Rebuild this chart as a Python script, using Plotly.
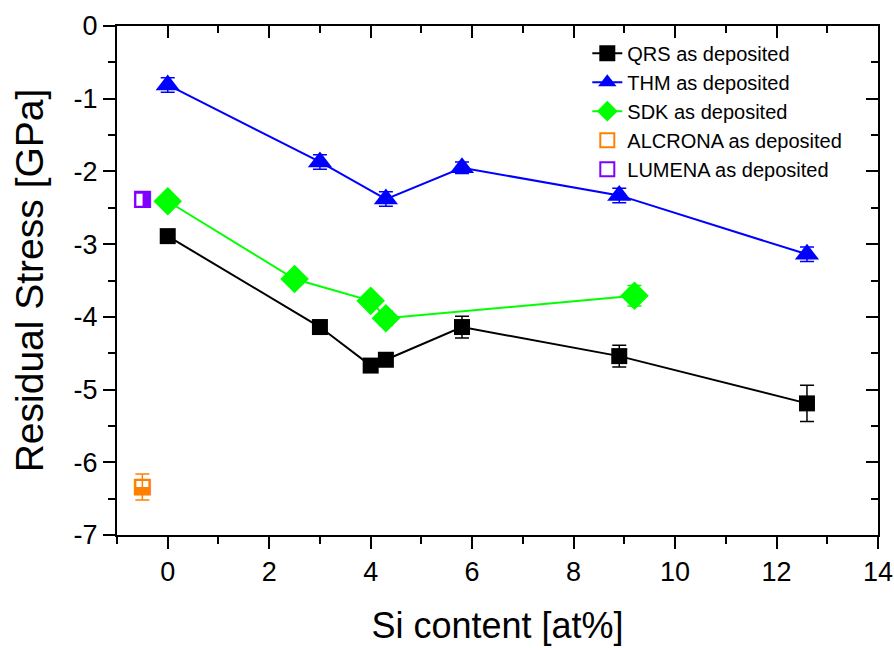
import plotly.graph_objects as go

# ---- data ----
qrs_x = [0, 3, 4, 4.3, 5.8, 8.9, 12.6]
qrs_y = [-2.89, -4.14, -4.67, -4.59, -4.14, -4.54, -5.19]
qrs_err = [0.05, 0.05, 0.08, 0.05, 0.15, 0.15, 0.25]

thm_x = [0, 3, 4.3, 5.8, 8.9, 12.6]
thm_y = [-0.81, -1.87, -2.38, -1.95, -2.33, -3.14]
thm_err = [0.1, 0.1, 0.1, 0.08, 0.1, 0.1]

sdk_x = [0, 2.5, 4, 4.3, 9.2]
sdk_y = [-2.41, -3.48, -3.78, -4.02, -3.71]
sdk_err = [0.06, 0.08, 0.08, 0.1, 0.14]

alc_x = [-0.5]
alc_y = [-6.34]
alc_err = [0.18]

lum_x = [-0.5]
lum_y = [-2.39]

x_ticks = [0, 2, 4, 6, 8, 10, 12, 14]
y_ticks = [0, -1, -2, -3, -4, -5, -6, -7]

FONT = "Arial, Liberation Sans, sans-serif"
BLUE = "#0000ff"
GREEN = "#00ff00"
ORANGE = "#ff8000"
PURPLE = "#8000ff"

fig = go.Figure()

def err(vals, color):
    return dict(type="data", array=vals, visible=True, color=color, thickness=1.5, width=7)

fig.add_trace(go.Scatter(x=qrs_x, y=qrs_y, mode="lines+markers", name="QRS as deposited",
                         line=dict(color="black", width=2),
                         marker=dict(symbol="square", size=16, color="black"),
                         error_y=err(qrs_err, "black")))
fig.add_trace(go.Scatter(x=thm_x, y=thm_y, mode="lines+markers", name="THM as deposited",
                         line=dict(color=BLUE, width=2),
                         marker=dict(symbol="triangle-up", size=21, color=BLUE),
                         error_y=err(thm_err, BLUE)))
fig.add_trace(go.Scatter(x=sdk_x, y=sdk_y, mode="lines+markers", name="SDK as deposited",
                         line=dict(color=GREEN, width=2),
                         marker=dict(symbol="diamond", size=22, color=GREEN),
                         error_y=err(sdk_err, GREEN)))
fig.add_trace(go.Scatter(x=alc_x, y=alc_y, mode="markers", name="ALCRONA as deposited",
                         marker=dict(symbol="square-open", size=14, color=ORANGE, line=dict(width=2, color=ORANGE)),
                         error_y=err(alc_err, ORANGE)))
fig.add_trace(go.Scatter(x=lum_x, y=lum_y, mode="markers", name="LUMENA as deposited",
                         marker=dict(symbol="square-open", size=14, color=PURPLE, line=dict(width=2, color=PURPLE))))
# half-filled glyph overlays
fig.add_trace(go.Scatter(x=alc_x, y=alc_y, mode="text", text=["\u2b13"], showlegend=False,
                         textfont=dict(color=ORANGE, size=22, family="DejaVu Sans"), hoverinfo="skip"))
fig.add_trace(go.Scatter(x=lum_x, y=lum_y, mode="text", text=["\u25e8"], showlegend=False,
                         textfont=dict(color=PURPLE, size=22, family="DejaVu Sans"), hoverinfo="skip"))
# invisible carrier so the mirrored (top/right) axes are drawn
fig.add_trace(go.Scatter(x=qrs_x, y=qrs_y, xaxis="x2", yaxis="y2", mode="markers",
                         marker=dict(opacity=0), showlegend=False, hoverinfo="skip"))

axis_common = dict(showline=True, linecolor="black", linewidth=2, showgrid=False, zeroline=False,
                   ticks="outside", tickcolor="black", tickwidth=2, ticklen=12, automargin=False,
                   ticklabeloverflow="allow",
                   tickfont=dict(family=FONT, size=27, color="black"))
mirror_common = dict(showticklabels=False, showline=True, linecolor="black", linewidth=2,
                     ticks="inside", ticklen=12, tickwidth=2, tickcolor="black", showgrid=False,
                     zeroline=False, automargin=False)

fig.update_layout(
    width=894, height=648,
    margin=dict(l=117, r=16, t=26, b=113),
    plot_bgcolor="white", paper_bgcolor="white",
    font=dict(family=FONT, color="black"),
    xaxis=dict(range=[-1, 14], tickvals=x_ticks, ticktext=[str(v) for v in x_ticks],
               minor=dict(dtick=1, ticks="outside", ticklen=7, tickcolor="black", tickwidth=2),
               title=dict(text="Si content [at%]", font=dict(family=FONT, size=36), standoff=26),
               **axis_common),
    yaxis=dict(range=[-7, 0], tickvals=y_ticks, ticktext=[str(v) for v in y_ticks],
               minor=dict(dtick=0.5, ticks="outside", ticklen=7, tickcolor="black", tickwidth=2),
               title=dict(text="Residual Stress [GPa]", font=dict(family=FONT, size=39), standoff=18),
               **axis_common),
    xaxis2=dict(overlaying="x", side="top", anchor="y2", range=[-1, 14], tickvals=x_ticks,
                minor=dict(dtick=1, ticks="inside", ticklen=7, tickcolor="black", tickwidth=2),
                **mirror_common),
    yaxis2=dict(overlaying="y", side="right", anchor="x2", range=[-7, 0], tickvals=y_ticks,
                minor=dict(dtick=0.5, ticks="inside", ticklen=7, tickcolor="black", tickwidth=2),
                **mirror_common),
    legend=dict(x=0.618, y=0.985, xanchor="left", yanchor="top", bgcolor="rgba(0,0,0,0)",
                font=dict(family=FONT, size=20, color="black"), tracegroupgap=0),
    showlegend=True,
)

# remove the default page margin so the 894x648 figure fills the window exactly
fig.write_html("out.html", config={"displayModeBar": False}, post_script=(
    "document.body.style.margin='0';"
    "document.documentElement.style.overflow='hidden';"
    "document.body.style.overflow='hidden';"))
